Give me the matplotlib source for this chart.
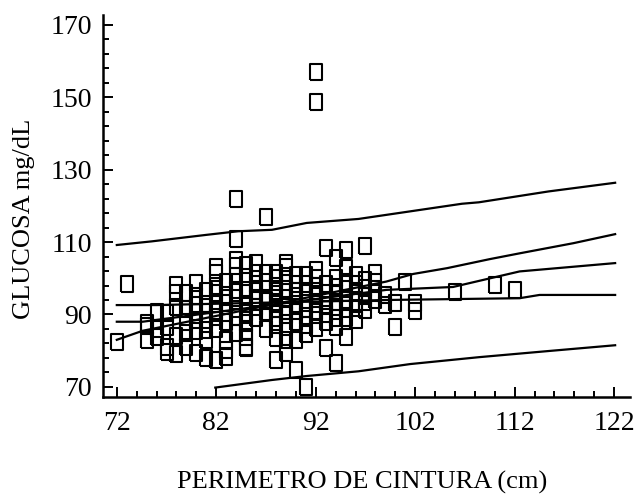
import matplotlib
matplotlib.use("Agg")
import matplotlib.pyplot as plt
import numpy as np

plt.rcParams['font.family'] = ['Liberation Serif', 'DejaVu Serif']

# waist (cm) -> list of glucose values (mg/dL) read column by column
cols = {
    72: [82.5],
    73: [98.4],
    75: [86.8, 87.6, 83.0],
    76: [90.8, 83.8, 86.0],
    77: [86.6, 81.0, 79.5, 90.3],
    78: [98.2, 96.0, 79.0, 84.0, 92.0],
    79: [96.0, 85.0, 88.0, 91.5, 81.0],
    80: [98.7, 79.4, 88.5, 90.8, 95.0, 85.5, 92.5],
    81: [78.0, 83.0, 85.7, 93.0, 88.5, 96.5],
    82: [103.0, 101.5, 96.0, 89.3, 77.5, 93.0, 86.0, 91.0, 98.0],
    83: [80.2, 83.0, 93.2, 78.3, 88.0, 95.5, 90.5, 99.0],
    84: [110.8, 122.0, 105.0, 85.0, 89.3, 91.5, 96.8, 100.5, 103.3, 94.5],
    85: [103.7, 100.4, 96.8, 87.7, 83.8, 81.0, 85.3, 80.7, 93.0, 90.5],
    86: [101.4, 96.4, 104.2, 89.0, 92.0, 94.5, 98.5],
    87: [117.0, 94.0, 90.8, 93.7, 86.0, 99.0, 101.5],
    88: [101.5, 77.5, 100.0, 87.1, 83.4, 96.4, 91.5, 94.5, 89.0, 98.0, 93.0],
    89: [104.2, 103.0, 83.0, 79.4, 89.9, 94.5, 97.0, 92.0, 86.5, 100.5, 91.0],
    90: [101.0, 74.7, 96.4, 83.0, 88.0, 93.0, 98.5, 91.0, 95.0],
    91: [101.0, 70.0, 87.1, 93.1, 96.0, 89.5, 98.5, 91.5, 84.5],
    92: [157.0, 148.7, 102.3, 100.0, 86.2, 89.9, 96.4, 93.0, 91.0, 95.0, 98.0],
    93: [80.7, 93.7, 108.3, 96.0, 90.0, 98.5, 88.0, 92.5],
    94: [105.5, 76.6, 89.0, 95.9, 92.0, 97.5, 86.5, 93.5, 100.0],
    95: [102.8, 83.9, 94.1, 107.9, 91.5, 97.0, 89.0, 99.0],
    96: [101.0, 95.9, 91.7, 93.5, 98.5, 88.5],
    97: [108.8, 97.2, 91.3, 95.0, 93.5, 99.5],
    98: [101.4, 99.1, 96.0, 94.0],
    99: [95.5, 92.5],
    100: [93.1, 86.6],
    101: [99.1],
    102: [93.1, 90.9],
    106: [96.2],
    110: [98.2],
    112: [96.8],
}
waist = [x for x, ys in cols.items() for _ in ys]
glucose = [y for ys in cols.values() for y in ys]

# prediction bands
pred_up_x = [72, 75.5, 81.0, 84.2, 87.6, 91.1, 96.3, 101.5, 106.7, 108.4, 115.4, 122.1]
pred_up_y = [109.2, 110.2, 112.0, 113.0, 113.4, 115.3, 116.4, 118.5, 120.6, 121.0, 124.0, 126.4]
pred_lo_x = [81.9, 87.6, 91.1, 96.3, 101.5, 108.4, 115.4, 122.1]
pred_lo_y = [69.8, 71.9, 73.0, 74.3, 76.3, 78.2, 79.9, 81.5]

# fan of three lines through the cloud
line_a_x = [72, 76, 99, 112.5, 114.5, 122.1]
line_a_y = [92.6, 92.6, 94.0, 94.5, 95.4, 95.4]
line_b_x = [72, 74.6, 99.1, 105.8, 110.0, 112.5, 122.1]
line_b_y = [88.0, 88.0, 96.8, 97.6, 100.3, 101.9, 104.2]
line_c_x = [72, 74.6, 99.1, 101.8, 105.2, 109.5, 112.5, 117.9, 122.1]
line_c_y = [83.0, 85.5, 99.1, 101.2, 102.8, 105.3, 106.9, 109.7, 112.2]

xticks = [72, 82, 92, 102, 112, 122]
yticks = [70, 90, 110, 130, 150, 170]

fig = plt.figure(figsize=(6.39, 4.95), dpi=100)
ax = fig.add_axes([0.161, 0.198, 0.825, 0.772])

rect = [(-0.38, -0.5), (0.38, -0.5), (0.38, 0.5), (-0.38, 0.5), (-0.38, -0.5)]
ax.plot(waist, glucose, linestyle='none', marker=rect, markersize=12,
        markerfacecolor='none', markeredgecolor='black', markeredgewidth=1.5)

for lx, ly in [(pred_up_x, pred_up_y), (pred_lo_x, pred_lo_y),
               (line_a_x, line_a_y), (line_b_x, line_b_y), (line_c_x, line_c_y)]:
    ax.plot(lx, ly, color='black', lw=1.6)

ax.set_xlim(70.6, 123.6)
ax.set_ylim(67.2, 172.8)
ax.set_xticks(xticks)
ax.set_xticklabels([str(t) for t in xticks])
ax.set_yticks(yticks)
ax.set_yticklabels([str(t) for t in yticks])
ax.set_xticks(np.arange(72, 123, 2), minor=True)
ax.set_yticks(np.arange(70, 171, 4), minor=True)

for s in ['top', 'right']:
    ax.spines[s].set_visible(False)
for s in ['left', 'bottom']:
    ax.spines[s].set_linewidth(1.8)

ax.tick_params(which='both', direction='in', width=1.4, labelsize=20)
ax.tick_params(which='major', length=7)
ax.tick_params(which='minor', length=4)
ax.tick_params(axis='x', pad=10)
ax.tick_params(axis='y', pad=8)

fig.text(0.567, 0.012, 'PERIMETRO DE CINTURA (cm)', ha='center', va='baseline', fontsize=19)
fig.text(0.038, 0.558, 'GLUCOSA mg/dL', ha='center', va='center', rotation=90, fontsize=19)

fig.savefig('out.png', dpi=100)
